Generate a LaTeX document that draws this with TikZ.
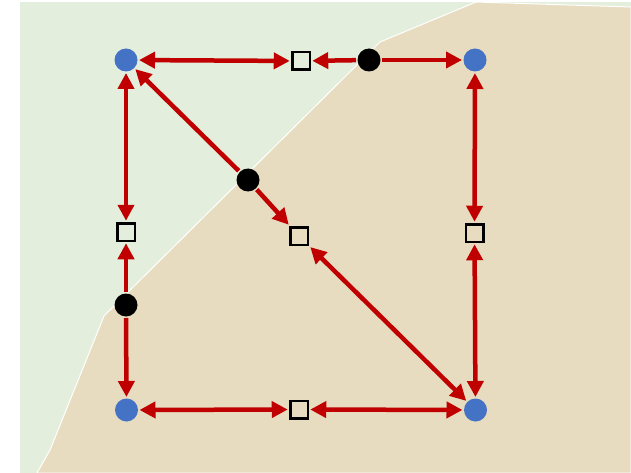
\documentclass[tikz,border=0pt]{standalone}
\usetikzlibrary{arrows.meta}
\definecolor{bggreen}{HTML}{E3EFDC}
\definecolor{bgtan}{HTML}{E7DCC0}
\definecolor{arr}{HTML}{C00000}
\definecolor{nodeblue}{HTML}{4472C4}
\begin{document}
\begin{tikzpicture}[x=1pt,y=-1pt,
  bluenode/.style={circle,fill=nodeblue,minimum size=23pt,inner sep=0pt,outer sep=1.5pt},
  blacknode/.style={circle,fill=black,minimum size=23pt,inner sep=0pt,outer sep=1.5pt},
  sqnode/.style={rectangle,draw=black,line width=2.5pt,fill=none,minimum size=17.5pt,inner sep=0pt,outer sep=2.5pt},
  conn/.style={draw=arr,line width=4.5pt,-{Triangle[length=16pt,width=16pt]}},
  dconn/.style={draw=arr,line width=4.5pt,{Triangle[length=16pt,width=16pt]}-{Triangle[length=16pt,width=16pt]}}]
\useasboundingbox (0,0) rectangle (631,473);
\fill[white] (0,0) rectangle (631,473);
\fill[bggreen] (20,2) rectangle (631,473);
\filldraw[fill=bgtan,draw=white,line width=1pt] (476,2) -- (631,7) -- (631,473) -- (37,473) -- (50,450) -- (104,316) -- (380,42) -- cycle;
% nodes
\node[bluenode] (tl) at (126,60) {};
\node[bluenode] (tr) at (475,60) {};
\node[bluenode] (bl) at (126.5,410) {};
\node[bluenode] (br) at (475.5,410) {};
\node[sqnode] (st) at (301,61) {};
\node[sqnode] (sl) at (126,232) {};
\node[sqnode] (sc) at (299,236) {};
\node[sqnode] (sr) at (474.5,233) {};
\node[sqnode] (sb) at (299,409.5) {};
\node[blacknode] (dt) at (369,60) {};
\node[blacknode] (dd) at (248,180) {};
\node[blacknode] (dl) at (126,305) {};
% connectors
\draw[dconn] (tl) -- (st);
\draw[conn] (dt) -- (st);
\draw[conn] (dt) -- (tr);
\draw[dconn] (tl) -- (sl);
\draw[conn] (dl) -- (sl);
\draw[conn] (dl) -- (bl);
\draw[conn] (dd) -- (tl);
\draw[conn] (dd) -- (sc);
\draw[dconn] (sc) -- (br);
\draw[dconn] (tr) -- (sr);
\draw[dconn] (sr) -- (br);
\draw[dconn] (bl) -- (sb);
\draw[dconn] (sb) -- (br);
\end{tikzpicture}
\end{document}
